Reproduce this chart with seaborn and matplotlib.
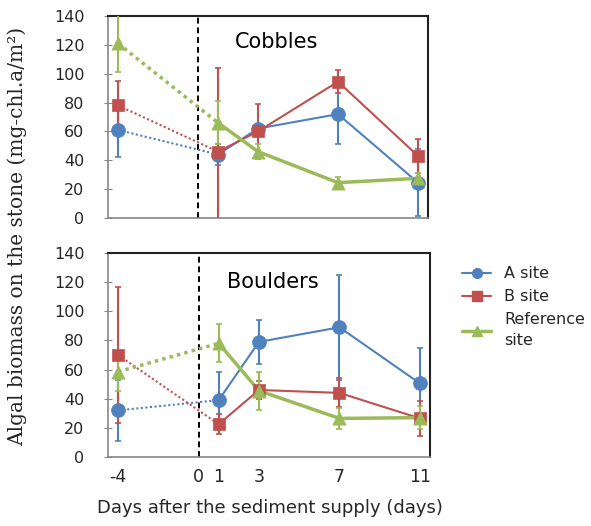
import numpy as np
import pandas as pd
import matplotlib
matplotlib.use("Agg")
import matplotlib.pyplot as plt
import seaborn as sns
from matplotlib.lines import Line2D

# Sampling days relative to the sediment supply
days = [-4, 1, 3, 7, 11]
site_names = ["A site", "B site", "Reference site"]
panels = ["Cobbles", "Boulders"]

# Cobbles: mean algal biomass (mg-chl.a/m2) and error
cobbles_a = [61, 44, 62, 72, 24.5]
cobbles_a_err = [18.5, 7, 3, 21, 23]
cobbles_b = [78, 46, 60, 94.5, 43]
cobbles_b_err = [17, 58, 19, 8, 12]
cobbles_ref = [121, 66, 46, 24.5, 27.5]
cobbles_ref_err = [20, 15, 5, 4, 4]

# Boulders
boulders_a = [32, 39, 79, 89, 50.5]
boulders_a_err = [21, 19, 15, 36, 24]
boulders_b = [70, 22.5, 46, 44, 26.5]
boulders_b_err = [47, 7, 6, 10, 12]
boulders_ref = [58.5, 78, 45.5, 26.5, 27]
boulders_ref_err = [13, 13, 13, 7, 8]

values = {
    ("Cobbles", "A site"): (cobbles_a, cobbles_a_err),
    ("Cobbles", "B site"): (cobbles_b, cobbles_b_err),
    ("Cobbles", "Reference site"): (cobbles_ref, cobbles_ref_err),
    ("Boulders", "A site"): (boulders_a, boulders_a_err),
    ("Boulders", "B site"): (boulders_b, boulders_b_err),
    ("Boulders", "Reference site"): (boulders_ref, boulders_ref_err),
}

rows = []
for (panel, site), (vals, errs) in values.items():
    for d, v, e in zip(days, vals, errs):
        rows.append({"panel": panel, "site": site, "day": d, "value": v, "err": e})
df = pd.DataFrame(rows)

sns.set_theme(style="white")
plt.rcParams["font.family"] = ["DejaVu Sans"]

styles = {
    "A site": dict(color="#4F81BD", marker="o", ms=10, lw=1.5, dot_lw=1.5),
    "B site": dict(color="#C0504D", marker="s", ms=8.5, lw=1.5, dot_lw=1.5),
    "Reference site": dict(color="#9BBB59", marker="^", ms=9.5, lw=2.5, dot_lw=2.5),
}

fig = plt.figure(figsize=(5.91, 5.26), dpi=100)
ax_top = fig.add_axes([108 / 591, 1 - 218 / 526, 320 / 591, 202 / 526])
ax_bot = fig.add_axes([108 / 591, 1 - 457 / 526, 322 / 591, 204 / 526])

for ax, panel, title_xy in [(ax_top, "Cobbles", (0.528, 0.871)),
                            (ax_bot, "Boulders", (0.512, 0.858))]:
    sub = df[df["panel"] == panel]
    for z, site in enumerate(site_names):
        st = styles[site]
        s = sub[sub["site"] == site]
        pre = s[s["day"] <= 1]
        post = s[s["day"] >= 1]
        ax.errorbar(s["day"], s["value"], yerr=s["err"], fmt="none",
                    ecolor=st["color"], elinewidth=1.5, capsize=2.5,
                    capthick=1.2, zorder=2 + z)
        sns.lineplot(data=pre, x="day", y="value", ax=ax, color=st["color"],
                     linestyle=(0, (1, 1.2)), lw=st["dot_lw"], errorbar=None,
                     zorder=2 + z)
        sns.lineplot(data=post, x="day", y="value", ax=ax, color=st["color"],
                     lw=st["lw"], errorbar=None, zorder=5 + z)
        sns.scatterplot(data=s, x="day", y="value", ax=ax, color=st["color"],
                        marker=st["marker"], s=st["ms"] ** 2,
                        edgecolor=st["color"], linewidth=0.5, zorder=8 + z)
    ax.axvline(0, color="black", linestyle=(0, (3, 2)), lw=1.4, zorder=1)
    ax.set_xlim(-4.5, 11.5)
    ax.set_ylim(0, 140)
    ax.set_yticks(np.arange(0, 141, 20))
    ax.set_xlabel("")
    ax.set_ylabel("")
    ax.text(*title_xy, panel, transform=ax.transAxes, ha="center",
            va="center", fontsize=15, color="black")
    ax.tick_params(axis="y", which="both", left=True, direction="inout",
                   length=6, width=0.8, color="#888888", labelsize=11.5,
                   pad=14)
    for side in ["left", "bottom"]:
        ax.spines[side].set_color("#888888")
        ax.spines[side].set_linewidth(1.2)
    for side in ["top", "right"]:
        ax.spines[side].set_color("#222222")
        ax.spines[side].set_linewidth(1.5)

ax_top.set_xticks([])
ax_bot.set_xticks([-4, 0, 1, 3, 7, 11])
ax_bot.set_xticklabels(["-4", "0", "1", "3", "7", "11"])
ax_bot.tick_params(axis="x", length=0, labelsize=12.5, pad=8)

fig.text(270 / 591, 1 - 508 / 526, "Days after the sediment supply (days)",
         ha="center", va="center", fontsize=13)
fig.text(17 / 591, 1 - 236 / 526,
         "Algal biomass on the stone (mg-chl.a/m\u00b2)",
         rotation=90, ha="center", va="center", fontsize=14.5,
         family=["DejaVu Serif"])

handles = [Line2D([0], [0], color=styles[s]["color"], lw=styles[s]["lw"],
                  marker=styles[s]["marker"], markersize=7)
           for s in site_names]
labels = ["A site", "B site", "Reference\nsite"]
leg = fig.legend(handles, labels, loc="upper left",
                 bbox_to_anchor=(448 / 591, 1 - 252 / 526), frameon=False,
                 fontsize=11.5, handlelength=1.8, handletextpad=0.8,
                 labelspacing=0.5)
for t in leg.get_texts():
    t.set_linespacing(1.5)

fig.savefig("out.png", dpi=100)
